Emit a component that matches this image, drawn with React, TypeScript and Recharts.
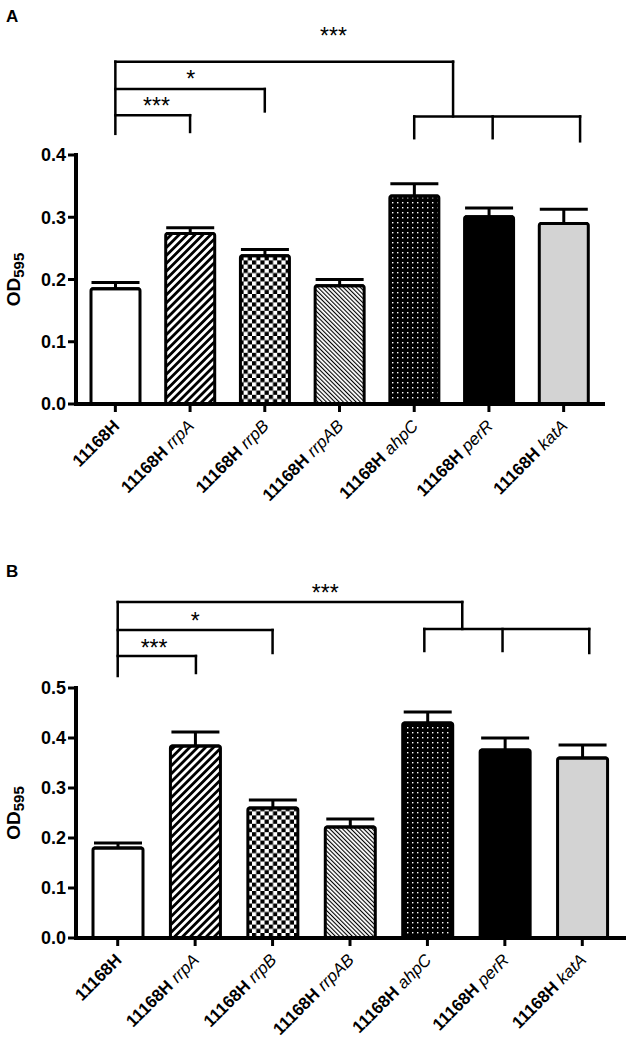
import React from 'react';
import {
  BarChart,
  Bar,
  XAxis,
  YAxis,
  Cell,
  ErrorBar,
  ReferenceLine,
  ReferenceDot,
} from 'recharts';

const FONT = '"Liberation Sans", Arial, Helvetica, sans-serif';

const strains = [
  '11168H',
  '11168H rrpA',
  '11168H rrpB',
  '11168H rrpAB',
  '11168H ahpC',
  '11168H perR',
  '11168H katA',
];
const strainIdx = [0, 1, 2, 3, 4, 5, 6];
const fills = [
  '#ffffff',
  'url(#diagThick)',
  'url(#checker)',
  'url(#diagThin)',
  'url(#dots)',
  '#000000',
  '#d3d3d3',
];

// OD595, mean and SEM (panel A)
const meanA = [0.185, 0.274, 0.238, 0.19, 0.334, 0.301, 0.29];
const semA = [0.01, 0.009, 0.01, 0.01, 0.02, 0.014, 0.023];
// panel B
const meanB = [0.18, 0.384, 0.26, 0.222, 0.43, 0.376, 0.36];
const semB = [0.01, 0.028, 0.016, 0.016, 0.022, 0.024, 0.026];

const ticksA = [0, 0.1, 0.2, 0.3, 0.4];
const ticksB = [0, 0.1, 0.2, 0.3, 0.4, 0.5];

// significance brackets as segments [x1, y1, x2, y2] in (bar index, OD) units
const bracketsA = [
  [0, 0.434, 0, 0.55],
  [0, 0.464, 1, 0.464],
  [1, 0.464, 1, 0.437],
  [0, 0.506, 2, 0.506],
  [2, 0.506, 2, 0.47],
  [0, 0.55, 4.52, 0.55],
  [4.52, 0.55, 4.52, 0.462],
  [4, 0.462, 6.22, 0.462],
  [4, 0.462, 4, 0.427],
  [5.05, 0.462, 5.05, 0.427],
  [6.22, 0.462, 6.22, 0.422],
];
const bracketsB = [
  [0, 0.524, 0, 0.672],
  [0, 0.564, 1.01, 0.564],
  [1.01, 0.564, 1.01, 0.53],
  [0, 0.616, 2, 0.616],
  [2, 0.616, 2, 0.57],
  [0, 0.672, 4.45, 0.672],
  [4.45, 0.672, 4.45, 0.618],
  [3.96, 0.618, 6.09, 0.618],
  [3.96, 0.618, 3.96, 0.574],
  [4.97, 0.618, 4.97, 0.574],
  [6.09, 0.618, 6.09, 0.57],
];
const starsA: [number, number, string][] = [
  [2.92, 0.6, '***'],
  [1.01, 0.53, '*'],
  [0.55, 0.486, '***'],
];
const starsB: [number, number, string][] = [
  [2.68, 0.7, '***'],
  [1.0, 0.644, '*'],
  [0.47, 0.59, '***'],
];

const rows = (mean: number[], sem: number[]) =>
  strains.map((name, i) => ({ idx: strainIdx[i], name, od: mean[i], sem: [0, sem[i]] }));

function StrainTick(props: any) {
  const { x, y, payload } = props;
  const [wt, gene] = (strains[payload.value] || '').split(' ');
  return (
    <text
      transform={`translate(${x + 5},${y + 13}) rotate(-45)`}
      textAnchor="end"
      fontFamily={FONT}
      fontSize={17}
      fill="#000"
    >
      <tspan fontWeight="bold">{wt}</tspan>
      {gene && (
        <tspan fontStyle="italic" dx={5}>
          {gene}
        </tspan>
      )}
    </text>
  );
}

function OdLabel(props: any) {
  const vb = props.viewBox || { x: 0, y: 0, width: 76, height: 250 };
  const cx = vb.x + 20;
  const cy = vb.y + vb.height / 2;
  return (
    <text
      transform={`translate(${cx},${cy}) rotate(-90)`}
      textAnchor="middle"
      fontFamily={FONT}
      fontWeight="bold"
      fontSize={19}
      fill="#000"
    >
      <tspan>OD</tspan>
      <tspan fontSize={15} dy={4}>
        595
      </tspan>
    </text>
  );
}

function StarLabel(props: any) {
  const vb = props.viewBox || { x: 0, y: 0, width: 0, height: 0 };
  return (
    <text
      x={vb.x + vb.width / 2}
      y={vb.y + vb.height / 2 + 13}
      textAnchor="middle"
      fontFamily={FONT}
      fontSize={23}
      fill="#000"
    >
      {props.text}
    </text>
  );
}

interface PanelProps {
  letter: string;
  data: { idx: number; name: string; od: number; sem: number[] }[];
  ticks: number[];
  brackets: number[][];
  stars: [number, number, string][];
  top: number;
  height: number;
  margin: { top: number; right: number; bottom: number; left: number };
  pad: { left: number; right: number };
  barSize: number;
  axisHeight: number;
}

function Panel({ letter, data, ticks, brackets, stars, top, height, margin, pad, barSize, axisHeight }: PanelProps) {
  return (
    <div style={{ position: 'absolute', left: 0, top, width: 628, height }}>
      <div
        style={{
          position: 'absolute',
          left: 6,
          top: 8,
          fontFamily: FONT,
          fontWeight: 'bold',
          fontSize: 17,
          lineHeight: '17px',
        }}
      >
        {letter}
      </div>
      <BarChart width={628} height={height} data={data} margin={margin} barSize={barSize}>
        <XAxis
          dataKey="idx"
          type="number"
          domain={[-0.5, 6.5]}
          allowDataOverflow
          ticks={strainIdx}
          interval={0}
          tick={<StrainTick />}
          tickSize={8}
          tickMargin={2}
          height={axisHeight}
          padding={pad}
          axisLine={{ stroke: '#000', strokeWidth: 4, strokeLinecap: 'square' }}
          tickLine={{ stroke: '#000', strokeWidth: 3 }}
        />
        <YAxis
          domain={[0, ticks[ticks.length - 1]]}
          ticks={ticks}
          allowDataOverflow
          width={76}
          tickSize={8}
          tickMargin={2}
          tickFormatter={(v: number) => v.toFixed(1)}
          tick={{ fontSize: 18, fontWeight: 'bold', fill: '#000', fontFamily: FONT }}
          axisLine={{ stroke: '#000', strokeWidth: 4, strokeLinecap: 'square' }}
          tickLine={{ stroke: '#000', strokeWidth: 3 }}
          label={<OdLabel />}
        />
        <Bar dataKey="od" stroke="#000" strokeWidth={3} radius={2} isAnimationActive={false}>
          {data.map((r, i) => (
            <Cell key={r.name} fill={fills[i]} />
          ))}
          <ErrorBar dataKey="sem" width={24} stroke="#000" strokeWidth={3} isAnimationActive={false} />
        </Bar>
        {brackets.map(([x1, y1, x2, y2], i) => (
          <ReferenceLine
            key={`b${i}`}
            segment={[
              { x: x1, y: y1 },
              { x: x2, y: y2 },
            ]}
            stroke="#000"
            strokeWidth={2.5}
            strokeLinecap="square"
            ifOverflow="visible"
          />
        ))}
        {stars.map(([x, y, t], i) => (
          <ReferenceDot
            key={`s${i}`}
            x={x}
            y={y}
            r={1}
            fill="none"
            stroke="none"
            ifOverflow="visible"
            label={<StarLabel text={t} />}
          />
        ))}
      </BarChart>
    </div>
  );
}

export default function App() {
  return (
    <div style={{ position: 'absolute', left: 0, top: 0, width: 628, height: 1047, background: '#fff' }}>
      <svg width={0} height={0} style={{ position: 'absolute' }}>
        <defs>
          <pattern id="diagThick" width={5.6} height={5.6} patternUnits="userSpaceOnUse" patternTransform="rotate(45)">
            <rect width={5.6} height={5.6} fill="#fff" />
            <rect width={2.8} height={5.6} fill="#000" />
          </pattern>
          <pattern id="diagThin" width={3} height={3} patternUnits="userSpaceOnUse" patternTransform="rotate(-45)">
            <rect width={3} height={3} fill="#fff" />
            <rect width={1.1} height={3} fill="#000" />
          </pattern>
          <pattern id="checker" width={8.4} height={8.4} patternUnits="userSpaceOnUse">
            <rect width={8.4} height={8.4} fill="#fff" />
            <rect width={4.2} height={4.2} fill="#000" />
            <rect x={4.2} y={4.2} width={4.2} height={4.2} fill="#000" />
          </pattern>
          <pattern id="dots" width={5} height={5} patternUnits="userSpaceOnUse">
            <rect width={5} height={5} fill="#000" />
            <rect x={2} y={2} width={1.4} height={1.4} fill="#fff" />
          </pattern>
        </defs>
      </svg>
      <Panel
        letter="A"
        data={rows(meanA, semA)}
        ticks={ticksA}
        brackets={bracketsA}
        stars={starsA}
        top={0}
        height={545}
        margin={{ top: 155, right: 25, bottom: 11, left: 0 }}
        pad={{ left: 2, right: 2 }}
        barSize={49}
        axisHeight={130}
      />
      <Panel
        letter="B"
        data={rows(meanB, semB)}
        ticks={ticksB}
        brackets={bracketsB}
        stars={starsB}
        top={555}
        height={492}
        margin={{ top: 133, right: 4, bottom: 9, left: 0 }}
        pad={{ left: 3, right: 3 }}
        barSize={50}
        axisHeight={100}
      />
    </div>
  );
}
